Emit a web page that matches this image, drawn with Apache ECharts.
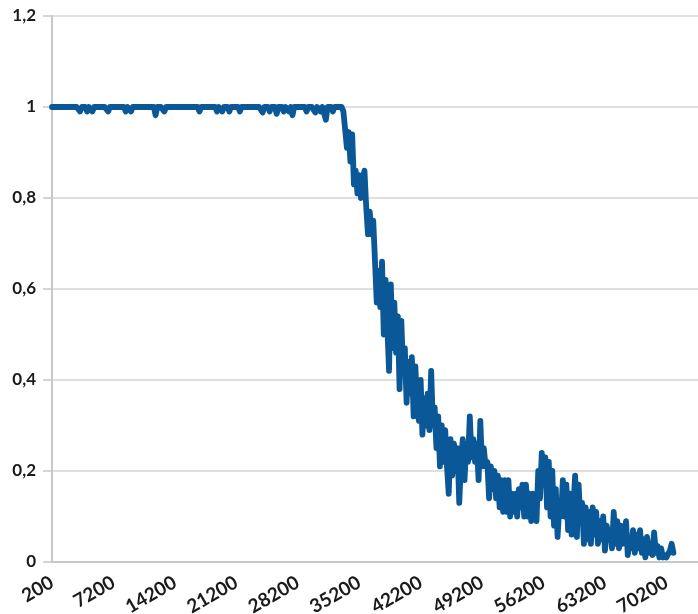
<!DOCTYPE html>
<html>
<head>
<meta charset="utf-8">
<script src="https://cdn.jsdelivr.net/npm/echarts@6/dist/echarts.min.js"></script>
<style>
  html, body { margin: 0; padding: 0; background: #fff; }
  #chart { width: 698px; height: 614px; }
</style>
</head>
<body>
<div id="chart"></div>
<script>
// Sampling positions along the x axis (every 200 units)
const X_START = 200;
const X_STEP = 200;
const X_MAX = 73800;
const X_TICK = 7000;

// Measured ratio per sample: flat plateau, then the decay
const plateau = [
  1, 1, 1, 1, 1, 1, 1, 1, 1, 1,
  1, 1, 1, 1, 1, 1, 0.99, 1, 1, 1,
  0.99, 1, 1, 0.99, 1, 1, 1, 1, 1, 1,
  1, 1, 0.99, 1, 1, 1, 1, 1, 1, 1,
  1, 1, 0.99, 1, 1, 0.99, 1, 1, 1, 1,
  1, 1, 1, 1, 1, 1, 1, 1, 1, 0.982,
  1, 1, 1, 1, 0.99, 1, 1, 1, 1, 1,
  1, 1, 1, 1, 1, 1, 1, 1, 1, 1,
  1, 1, 1, 1, 0.99, 1, 1, 1, 1, 1,
  1, 1, 1, 1, 0.99, 1, 1, 0.99, 1, 1,
  1, 0.99, 1, 1, 1, 1, 1, 0.99, 1, 1,
  1, 1, 1, 1, 1, 1, 1, 1, 1, 1,
  0.988, 1, 1, 1, 0.99, 1, 1, 1, 0.985, 1,
  1, 1, 0.99, 1, 1, 0.99, 1, 0.982, 1, 1,
  1, 1, 1, 1, 1, 0.99, 1, 1, 1, 1,
  0.988, 1, 1, 0.99, 1, 1, 0.972, 1, 1, 1,
  0.99, 1, 1, 1, 1, 1
];
const decay = [
  0.99, 0.95, 0.91, 0.945,
  0.88, 0.94, 0.83, 0.86, 0.81, 0.85, 0.80, 0.84, 0.86, 0.78,
  0.72, 0.77, 0.72, 0.75, 0.66, 0.57, 0.64, 0.56, 0.66, 0.50,
  0.62, 0.52, 0.42, 0.61, 0.47, 0.57, 0.46, 0.54, 0.38, 0.53,
  0.42, 0.47, 0.35, 0.44, 0.37, 0.45, 0.32, 0.43, 0.34, 0.31,
  0.40, 0.28, 0.36, 0.30, 0.37, 0.29, 0.42, 0.30, 0.34, 0.25,
  0.32, 0.21, 0.30, 0.22, 0.29, 0.21, 0.15, 0.27, 0.19, 0.26,
  0.20, 0.25, 0.13, 0.22, 0.27, 0.18, 0.26, 0.22, 0.32, 0.23,
  0.27, 0.22, 0.26, 0.18, 0.31, 0.21, 0.25, 0.21, 0.22, 0.14,
  0.21, 0.16, 0.20, 0.14, 0.19, 0.12, 0.18, 0.11, 0.18, 0.11,
  0.18, 0.10, 0.15, 0.11, 0.15, 0.10, 0.16, 0.12, 0.17, 0.10,
  0.17, 0.10, 0.15, 0.09, 0.15, 0.12, 0.09, 0.20, 0.14, 0.24,
  0.17, 0.23, 0.12, 0.22, 0.10, 0.20, 0.08, 0.16, 0.055, 0.12,
  0.10, 0.18, 0.10, 0.17, 0.07, 0.15, 0.06, 0.12, 0.19, 0.055,
  0.17, 0.09, 0.13, 0.04, 0.12, 0.05, 0.11, 0.04, 0.12, 0.06,
  0.11, 0.04, 0.09, 0.05, 0.10, 0.025, 0.08, 0.05, 0.07, 0.03,
  0.11, 0.04, 0.09, 0.03, 0.08, 0.04, 0.06, 0.09, 0.015, 0.05,
  0.03, 0.07, 0.02, 0.06, 0.03, 0.07, 0.02, 0.05, 0.01, 0.055,
  0.02, 0.04, 0.015, 0.065, 0.02, 0.035, 0.01, 0.03, 0.01, 0.015,
  0.01, 0.01, 0.025, 0.04, 0.02
];
const values = plateau.concat(decay);
const points = values.map(function (v, i) { return [X_START + i * X_STEP, v]; });

// Y axis ticks
const Y_MIN = 0;
const Y_MAX = 1.2;
const Y_STEP = 0.2;

const FONT = 'Lato, sans-serif';
const chart = echarts.init(document.getElementById('chart'), null, { renderer: 'canvas' });

chart.setOption({
  animation: false,
  backgroundColor: '#ffffff',
  grid: {
    left: 52, right: 0, top: 16, bottom: 52,
    containLabel: false,
    outerBoundsMode: 'none'
  },
  xAxis: {
    type: 'value',
    min: X_START,
    max: X_MAX,
    interval: X_TICK,
    axisLine: { show: true, onZero: false, lineStyle: { color: '#c8c8c8', width: 2 } },
    axisTick: { show: false },
    splitLine: { show: false },
    axisLabel: {
      rotate: 30,
      margin: 19,
      hideOverlap: false,
      showMaxLabel: false,
      color: '#1a1a1a',
      fontFamily: FONT,
      fontWeight: 'bold',
      fontSize: 19,
      formatter: function (v) { return String(v); }
    }
  },
  yAxis: {
    type: 'value',
    min: Y_MIN,
    max: Y_MAX,
    interval: Y_STEP,
    axisLine: { show: true, lineStyle: { color: '#c8c8c8', width: 2 } },
    axisTick: { show: true, length: 9, lineStyle: { color: '#c8c8c8', width: 1.5 } },
    splitLine: { show: true, lineStyle: { color: '#d4d4d4', width: 1.5 } },
    axisLabel: {
      margin: 16,
      color: '#1a1a1a',
      fontFamily: FONT,
      fontWeight: 'bold',
      fontSize: 17,
      formatter: function (v) {
        const r = Math.round(v * 10) / 10;
        return String(r).replace('.', ',');
      }
    }
  },
  series: [{
    type: 'line',
    data: points,
    showSymbol: false,
    symbol: 'none',
    lineStyle: { color: '#0a5897', width: 5.8, cap: 'round', join: 'round' }
  }]
});
</script>
</body>
</html>
